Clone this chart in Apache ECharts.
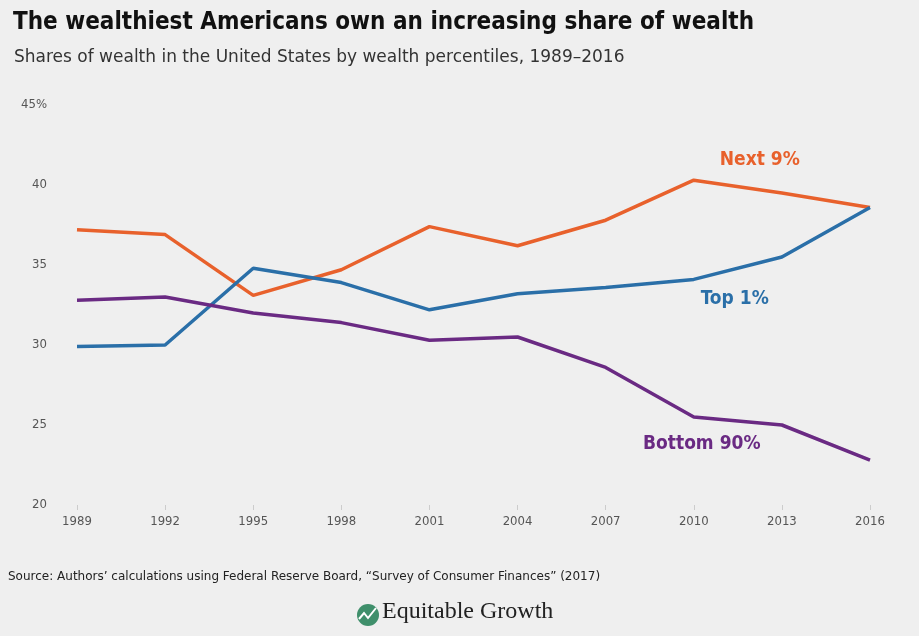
<!DOCTYPE html>
<html>
<head>
<meta charset="utf-8">
<script src="https://cdn.jsdelivr.net/npm/echarts@6/dist/echarts.min.js"></script>
<style>
html,body{margin:0;padding:0;background:#efefef;}
#chart{width:919px;height:636px;}
</style>
</head>
<body>
<div id="chart"></div>
<script>
const years = ['1989','1992','1995','1998','2001','2004','2007','2010','2013','2016'];
const next9 = [37.2, 36.9, 33.1, 34.7, 37.4, 36.2, 37.8, 40.3, 39.5, 38.6];
const top1 = [29.9, 30.0, 34.8, 33.9, 32.2, 33.2, 33.6, 34.1, 35.5, 38.6];
const bottom90 = [32.8, 33.0, 32.0, 31.4, 30.3, 30.5, 28.6, 25.5, 25.0, 22.8];
const yTicks = [20, 25, 30, 35, 40, 45];

const chart = echarts.init(document.getElementById('chart'));
const condFont = '"DejaVu Sans Condensed", "DejaVu Sans", sans-serif';
const plainFont = '"DejaVu Sans", sans-serif';
function seriesDef(name, data, color, labelText, offset) {
  return {
    name: name, type: 'line', data: data, symbol: 'none', smooth: false,
    lineStyle: {color: color, width: 3.5}, itemStyle: {color: color},
    markPoint: {
      symbol: 'circle', symbolSize: 0,
      data: [{coord: ['2010', data[7]]}],
      label: {show: true, formatter: labelText, color: color, fontWeight: 'bold',
        fontSize: 19, fontFamily: condFont, offset: offset}
    }
  };
}
chart.setOption({
  backgroundColor: '#efefef',
  animation: false,
  title: [
    {text: 'The wealthiest Americans own an increasing share of wealth', left: 8, top: 6,
     textStyle: {fontFamily: condFont, fontWeight: 'bold', fontSize: 24, color: '#111'}},
    {text: 'Shares of wealth in the United States by wealth percentiles, 1989\u20132016', left: 9, top: 44,
     textStyle: {fontFamily: plainFont, fontWeight: 'normal', fontSize: 17, color: '#333'}}
  ],
  grid: {left: 77, right: 49, top: 105, bottom: 131},
  xAxis: {
    type: 'category', data: years, boundaryGap: false,
    axisLine: {show: false},
    axisTick: {show: true, alignWithLabel: true, length: 5, lineStyle: {color: '#ccc'}},
    axisLabel: {color: '#555', fontSize: 13, fontFamily: condFont, margin: 10},
    splitLine: {show: false}
  },
  yAxis: {
    type: 'value', min: 20, max: 45, interval: 5,
    axisLine: {show: false}, axisTick: {show: false}, splitLine: {show: false},
    axisLabel: {color: '#555', fontSize: 13, fontFamily: condFont, margin: 30,
      formatter: function (v) { return v === yTicks[yTicks.length - 1] ? v + '%' : String(v); }}
  },
  series: [
    seriesDef('Next 9%', next9, '#E8612C', 'Next 9%', [66, -20]),
    seriesDef('Top 1%', top1, '#2A6FA8', 'Top 1%', [41, 20]),
    seriesDef('Bottom 90%', bottom90, '#6A2A83', 'Bottom 90%', [8, 27])
  ],
  graphic: [
    {type: 'text', left: 8, top: 571,
     style: {text: 'Source: Authors\u2019 calculations using Federal Reserve Board, \u201cSurvey of Consumer Finances\u201d (2017)',
       fill: '#222', font: '12px "DejaVu Sans", sans-serif'}},
    {type: 'circle', shape: {cx: 368, cy: 615, r: 11}, style: {fill: '#3f8f6b'}},
    {type: 'polyline', shape: {points: [[359, 619], [364, 613], [368, 618], [376, 608]]},
     style: {stroke: '#fff', lineWidth: 2, fill: null}},
    {type: 'text', left: 382, top: 600,
     style: {text: 'Equitable Growth', fill: '#222', font: '24px "Liberation Serif", serif'}}
  ]
});
</script>
</body>
</html>
